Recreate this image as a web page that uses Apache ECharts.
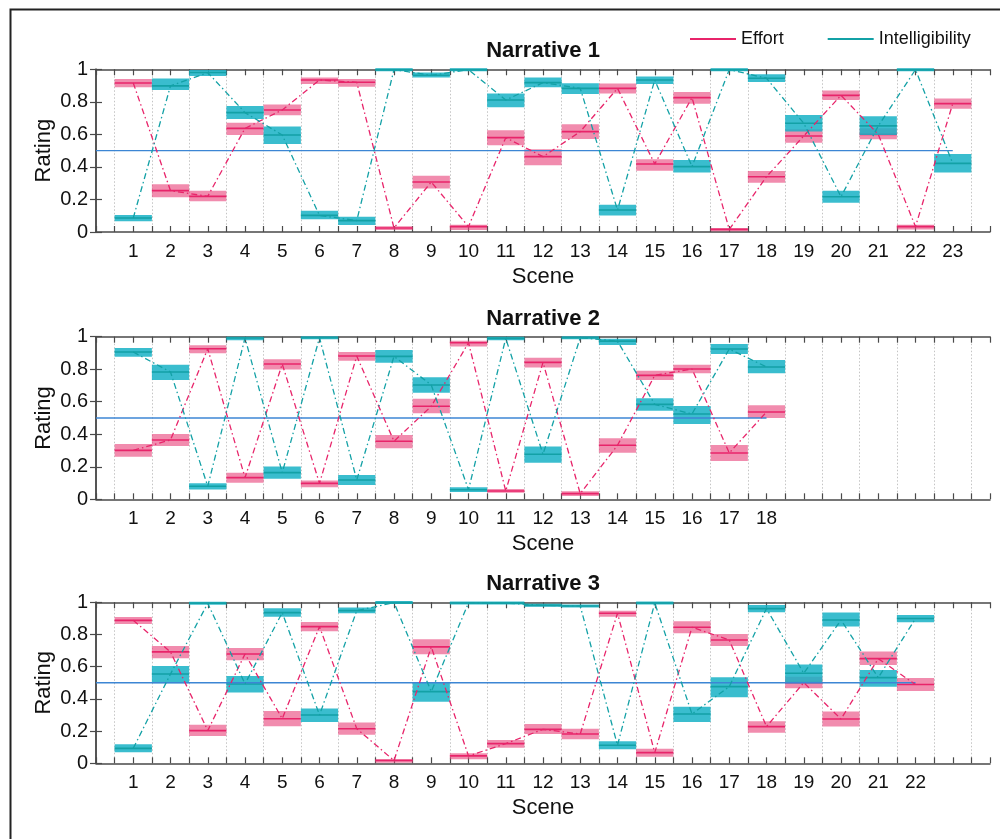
<!DOCTYPE html>
<html>
<head>
<meta charset="utf-8">
<script src="https://cdn.jsdelivr.net/npm/echarts@6/dist/echarts.min.js"></script>
<style>
html,body{margin:0;padding:0;background:#fff;}
#chart{width:1000px;height:839px;}
</style>
</head>
<body>
<div id="chart"></div>
<script>
// ---- Data ----
const titles = ['Narrative 1', 'Narrative 2', 'Narrative 3'];
const sceneCounts = [23, 18, 22];
const xMax = 24;

// Narrative 1
const n1EffortMean = [0.916,0.254,0.219,0.637,0.750,0.934,0.920,0.025,0.307,0.033,0.580,0.463,0.617,0.883,0.418,0.826,0.016,0.340,0.590,0.840,0.600,0.033,0.789];
const n1EffortLo   = [0.890,0.213,0.189,0.596,0.717,0.910,0.893,0.012,0.268,0.012,0.533,0.410,0.572,0.852,0.377,0.789,0.004,0.303,0.549,0.811,0.570,0.016,0.758];
const n1EffortHi   = [0.940,0.293,0.254,0.672,0.783,0.949,0.940,0.035,0.346,0.045,0.625,0.508,0.662,0.912,0.447,0.861,0.025,0.375,0.631,0.869,0.637,0.045,0.820];
const n1IntelMean  = [0.086,0.898,0.980,0.734,0.596,0.102,0.070,0.998,0.963,0.998,0.811,0.918,0.883,0.135,0.934,0.402,0.998,0.945,0.668,0.217,0.652,0.998,0.422];
const n1IntelLo    = [0.066,0.873,0.959,0.695,0.541,0.078,0.043,0.990,0.949,0.990,0.766,0.889,0.848,0.102,0.910,0.365,0.990,0.922,0.617,0.180,0.596,0.990,0.365];
const n1IntelHi    = [0.105,0.943,0.996,0.775,0.648,0.131,0.094,1.000,0.980,1.000,0.852,0.949,0.914,0.168,0.955,0.443,1.000,0.969,0.719,0.254,0.711,1.000,0.480];

// Narrative 2
const n2EffortMean = [0.301,0.365,0.926,0.133,0.832,0.098,0.881,0.357,0.572,0.963,0.051,0.842,0.035,0.332,0.762,0.801,0.285,0.537];
const n2EffortLo   = [0.262,0.328,0.898,0.102,0.799,0.074,0.852,0.314,0.529,0.939,0.041,0.811,0.020,0.287,0.734,0.775,0.236,0.500];
const n2EffortHi   = [0.340,0.402,0.947,0.164,0.861,0.115,0.906,0.395,0.619,0.975,0.064,0.871,0.049,0.375,0.791,0.828,0.334,0.578];
const n2IntelMean  = [0.906,0.783,0.080,0.992,0.164,0.994,0.119,0.879,0.703,0.059,0.990,0.277,0.994,0.973,0.584,0.525,0.924,0.814];
const n2IntelLo    = [0.877,0.734,0.061,0.978,0.127,0.986,0.088,0.840,0.656,0.045,0.978,0.225,0.986,0.949,0.545,0.463,0.893,0.775];
const n2IntelHi    = [0.930,0.828,0.098,1.000,0.201,1.000,0.150,0.918,0.750,0.074,1.000,0.324,1.000,0.988,0.621,0.574,0.955,0.857];

// Narrative 3
const n3EffortMean = [0.888,0.692,0.203,0.679,0.277,0.849,0.215,0.017,0.723,0.046,0.122,0.211,0.182,0.932,0.066,0.845,0.766,0.228,0.501,0.275,0.650,0.489];
const n3EffortLo   = [0.865,0.652,0.170,0.640,0.230,0.820,0.178,0.004,0.677,0.025,0.097,0.182,0.149,0.911,0.041,0.807,0.729,0.190,0.466,0.228,0.611,0.449];
const n3EffortHi   = [0.909,0.729,0.240,0.716,0.325,0.878,0.253,0.027,0.770,0.062,0.145,0.244,0.215,0.948,0.091,0.882,0.803,0.261,0.538,0.321,0.694,0.530];
const n3IntelMean  = [0.093,0.555,0.994,0.493,0.936,0.300,0.948,0.998,0.445,0.996,0.995,0.981,0.977,0.112,0.996,0.306,0.476,0.961,0.559,0.890,0.532,0.899];
const n3IntelLo    = [0.068,0.497,0.986,0.439,0.911,0.257,0.932,0.990,0.383,0.988,0.988,0.972,0.968,0.087,0.988,0.257,0.410,0.938,0.497,0.849,0.476,0.876];
const n3IntelHi    = [0.118,0.605,1.000,0.542,0.963,0.340,0.967,1.000,0.501,1.000,1.000,0.990,0.986,0.137,1.000,0.352,0.534,0.983,0.613,0.936,0.580,0.921];

const yTicks = [0, 0.2, 0.4, 0.6, 0.8, 1];
const refLevel = 0.5;

const panels = [
  {effort:[n1EffortMean,n1EffortLo,n1EffortHi], intel:[n1IntelMean,n1IntelLo,n1IntelHi]},
  {effort:[n2EffortMean,n2EffortLo,n2EffortHi], intel:[n2IntelMean,n2IntelLo,n2IntelHi]},
  {effort:[n3EffortMean,n3EffortLo,n3EffortHi], intel:[n3IntelMean,n3IntelLo,n3IntelHi]}
];

// ---- Styles ----
const FONT = 'Liberation Sans, Arial, Helvetica, sans-serif';
const effortLine = '#e8246a';
const effortFill = 'rgba(232,70,125,0.62)';
const intelLine = '#13a1a6';
const intelFill = 'rgba(24,178,198,0.85)';
const refColor = '#3c86d4';
const frameColor = '#4a4a4a';
const gridTops = [69.3, 336.7, 602.3];
const gridHeights = [162.7, 162.6, 161];
const plotLeft = 96, plotRight = 10;

function boxRenderer(fill, stroke) {
  return function (params, api) {
    const x = api.value(0), m = api.value(1), lo = api.value(2), hi = api.value(3);
    const a = api.coord([x - 0.5, hi]);
    const b = api.coord([x + 0.5, lo]);
    const c1 = api.coord([x - 0.5, m]);
    const c2 = api.coord([x + 0.5, m]);
    const h = Math.max(b[1] - a[1], 3);
    const y0 = (b[1] - a[1]) < 3 ? c1[1] - 1.5 : a[1];
    return {
      type: 'group',
      children: [
        {type: 'rect', shape: {x: a[0], y: y0, width: b[0] - a[0], height: h}, style: {fill: fill}},
        {type: 'line', shape: {x1: c1[0], y1: c1[1], x2: c2[0], y2: c2[1]}, style: {stroke: stroke, lineWidth: 1.6}}
      ]
    };
  };
}

const grids = [], xAxes = [], yAxes = [], series = [], titleList = [];

panels.forEach((p, k) => {
  const n = sceneCounts[k];
  grids.push({left: plotLeft, right: plotRight, top: gridTops[k], height: gridHeights[k], containLabel: false});
  titleList.push({
    text: titles[k], left: plotLeft + (1000 - plotLeft - plotRight) / 2, textAlign: 'center',
    top: gridTops[k] - 29, padding: 0,
    textStyle: {fontFamily: FONT, fontSize: 22, fontWeight: 'bold', color: '#111'}
  });
  const commonX = {
    type: 'value', gridIndex: k, min: 0, max: xMax, interval: 0.5,
    axisLine: {show: true, onZero: false, lineStyle: {color: frameColor, width: 1.5}},
    axisTick: {show: true, inside: true, length: 6, lineStyle: {color: frameColor, width: 1.2}},
  };
  xAxes.push(Object.assign({}, commonX, {
    position: 'bottom',
    name: 'Scene', nameLocation: 'middle', nameGap: 34,
    nameTextStyle: {fontFamily: FONT, fontSize: 22, color: '#111'},
    axisLabel: {
      margin: 10, fontFamily: FONT, fontSize: 19, color: '#111',
      formatter: v => (Number.isInteger(v) && v >= 1 && v <= n) ? String(v) : ''
    },
    splitLine: {show: true, lineStyle: {color: ['rgba(0,0,0,0)', '#c4c4c4'], type: [1.5, 2], width: 1}}
  }));
  xAxes.push(Object.assign({}, commonX, {
    position: 'top', axisLabel: {show: false}, splitLine: {show: false}
  }));
  const commonY = {
    type: 'value', gridIndex: k, min: 0, max: 1, interval: 0.2,
    axisLine: {show: true, lineStyle: {color: frameColor, width: 1.5}},
    axisTick: {show: true, inside: true, length: 6, lineStyle: {color: frameColor, width: 1.2}},
    splitLine: {show: false}
  };
  yAxes.push(Object.assign({}, commonY, {
    position: 'left',
    name: 'Rating', nameLocation: 'middle', nameGap: 41, nameRotate: 90, nameMoveOverlap: false,
    nameTextStyle: {fontFamily: FONT, fontSize: 22, color: '#111'},
    axisLabel: {margin: 8, fontFamily: FONT, fontSize: 20, color: '#111',
      formatter: v => (v === 0 ? '0' : v === 1 ? '1' : v.toFixed(1))}
  }));
  yAxes.push(Object.assign({}, commonY, {position: 'right', axisLabel: {show: false}}));

  const xi = k * 2, yi = k * 2;
  const [em, elo, ehi] = p.effort;
  const [im, ilo, ihi] = p.intel;

  series.push({
    name: 'Effort box', type: 'custom', xAxisIndex: xi, yAxisIndex: yi, silent: true, z: 2,
    renderItem: boxRenderer(effortFill, effortLine),
    data: em.map((v, i) => [i + 1, v, elo[i], ehi[i]])
  });
  series.push({
    name: 'Intelligibility box', type: 'custom', xAxisIndex: xi, yAxisIndex: yi, silent: true, z: 3,
    renderItem: boxRenderer(intelFill, intelLine),
    data: im.map((v, i) => [i + 1, v, ilo[i], ihi[i]])
  });
  series.push({
    name: 'reference', type: 'line', xAxisIndex: xi, yAxisIndex: yi, silent: true, z: 4,
    symbol: 'none', lineStyle: {color: refColor, width: 1.4}, itemStyle: {color: refColor},
    data: [[0, refLevel], [n, refLevel]]
  });
  series.push({
    name: 'Effort', type: 'line', xAxisIndex: xi, yAxisIndex: yi, z: 5,
    symbol: 'none', color: effortLine,
    lineStyle: {color: effortLine, width: 1.3, type: [6, 3, 1.5, 3]},
    data: em.map((v, i) => [i + 1, v])
  });
  series.push({
    name: 'Intelligibility', type: 'line', xAxisIndex: xi, yAxisIndex: yi, z: 5,
    symbol: 'none', color: intelLine,
    lineStyle: {color: intelLine, width: 1.3, type: [6, 3, 1.5, 3]},
    data: im.map((v, i) => [i + 1, v])
  });
});

const chart = echarts.init(document.getElementById('chart'), null, {renderer: 'canvas'});
chart.setOption({
  backgroundColor: '#fff',
  animation: false,
  title: titleList,
  legend: {
    data: ['Effort', 'Intelligibility'],
    left: 690, top: 30, padding: 0, itemWidth: 46, itemHeight: 14, itemGap: 44,
    icon: 'path://M0,0 L46,0 L46,2 L0,2 Z',
    textStyle: {fontFamily: FONT, fontSize: 18, color: '#111'},
    selectedMode: false
  },
  graphic: [{
    type: 'rect', left: 8, top: 7, shape: {width: 1100, height: 900}, z: -10, silent: true,
    style: {fill: 'none', stroke: '#222', lineWidth: 2}
  }],
  grid: grids,
  xAxis: xAxes,
  yAxis: yAxes,
  series: series
});
</script>
</body>
</html>
